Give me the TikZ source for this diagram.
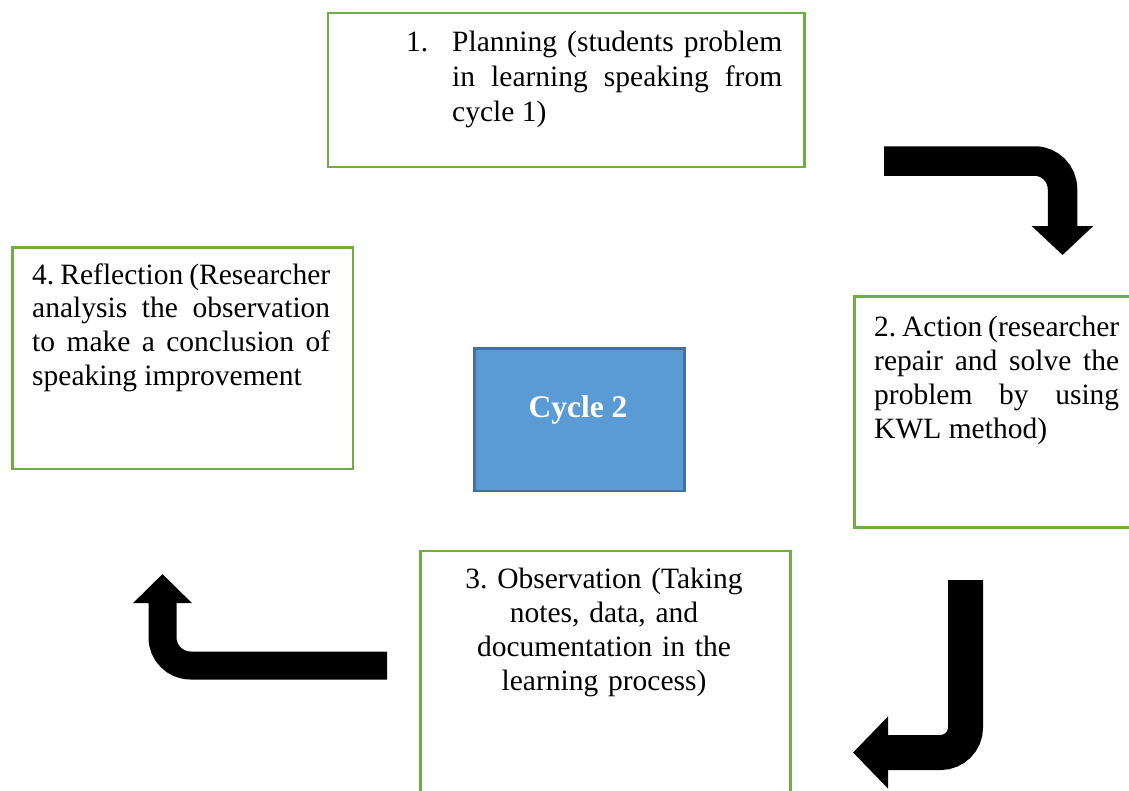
\documentclass[tikz,border=0pt]{standalone}
\usepackage{fontspec}
\setmainfont{Liberation Serif}
\usetikzlibrary{arrows.meta}
\definecolor{boxgreen}{HTML}{70AD47}
\definecolor{cycfill}{HTML}{5B9BD5}
\definecolor{cycdraw}{HTML}{41719C}
\newcommand{\nohyph}{\hyphenpenalty=10000\exhyphenpenalty=10000\frenchspacing\hbadness=10000\hfuzz=20pt}
\tikzset{
  greenbox/.style={draw=boxgreen, line width=2.5pt, fill=white, inner sep=0pt, anchor=north west},
  cyclebox/.style={draw=cycdraw, line width=2.5pt, fill=cycfill, inner sep=0pt, anchor=north west},
  bodytext/.style={inner sep=0pt, font=\fontsize{29.5}{35}\selectfont\nohyph},
  jtext/.style={bodytext, align=justify, anchor=base west},
  bendarrow/.style={line width=#1, rounded corners=28pt, draw=black},
}
\begin{document}
\begin{tikzpicture}[x=1pt,y=-1pt]
\clip (0,0) rectangle (1129,790);
\fill[white] (0,0) rectangle (1129,790);
% boxes
\node[greenbox, minimum width=476.5pt, minimum height=154pt] (b1) at (326.5,11.5) {};
\node[greenbox, minimum width=340.5pt, minimum height=221.5pt] (b4) at (11,246) {};
\node[greenbox, minimum width=290pt, minimum height=231pt] (b2) at (853,295) {};
\node[greenbox, minimum width=370pt, minimum height=260pt] (b3) at (419,549.5) {};
\node[cyclebox, minimum width=210pt, minimum height=142.5pt] (cb) at (473,347) {};
% texts
\node[bodytext, anchor=base west] (n1) at (406,51.5) {1.};
\node[jtext, text width=330pt] (t1) at (452,51.5) {Planning (students problem\linebreak in learning speaking from\linebreak cycle 1)};
\node[jtext, text width=298pt, font=\fontsize{29.5}{33.8}\selectfont\nohyph] (t4) at (32,284) {4. Reflection (Researcher\linebreak analysis the observation\linebreak to make a conclusion of\linebreak speaking improvement};
\node[jtext, text width=245pt, font=\fontsize{29.5}{34}\selectfont\nohyph] (t2) at (874,336) {2. Action (researcher\linebreak repair and solve the\linebreak problem by using\linebreak KWL method)};
\node[bodytext, align=center, anchor=base, text width=360pt, font=\fontsize{29.5}{34}\selectfont\nohyph] (t3) at (604,588) {3. Observation (Taking\\notes, data, and\\documentation in the\\learning process)};
\node[inner sep=0pt, anchor=base, text=white, font=\fontsize{31.5}{36}\selectfont\bfseries] (ct) at (578,417.5) {Cycle 2};
% bent arrows
\coordinate (a1s) at (884,161);
\coordinate (a1e) at (1062.5,255);
\draw[bendarrow=29.5pt, -{Triangle[width=60pt,length=29pt]}] (a1s) -| (a1e);
\coordinate (a2s) at (965.5,580);
\coordinate (a2e) at (853,752.5);
\draw[bendarrow=35pt, rounded corners=25pt, -{Triangle[width=70pt,length=35pt]}] (a2s) |- (a2e);
\coordinate (a3s) at (387,665.5);
\coordinate (a3e) at (162.5,574);
\draw[bendarrow=28pt, -{Triangle[width=57pt,length=29pt]}] (a3s) -| (a3e);
\end{tikzpicture}
\end{document}
